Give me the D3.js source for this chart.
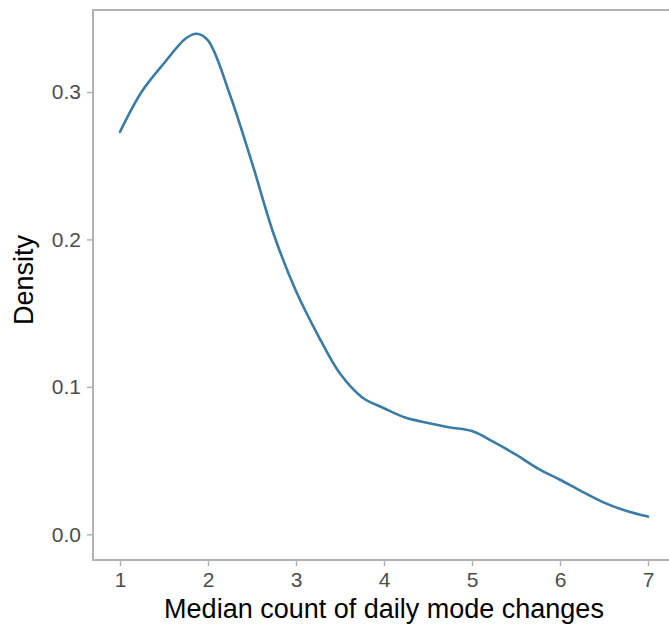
<!DOCTYPE html>
<html>
<head>
<meta charset="utf-8">
<script src="https://cdn.jsdelivr.net/npm/d3@7"></script>
<style>
  html, body { margin: 0; padding: 0; background: #fff; }
  svg { display: block; }
</style>
</head>
<body>
<svg id="chart" width="669" height="625"></svg>
<script>
// Kernel density estimate of the median count of daily mode changes
const modeChanges = [1.0, 1.25, 1.5, 1.75, 1.875, 2.0, 2.25, 2.5, 2.75, 3.0, 3.25, 3.5, 3.75,
                     4.0, 4.25, 4.5, 4.75, 5.0, 5.25, 5.5, 5.75, 6.0, 6.25, 6.5, 6.75, 7.0];
const density     = [0.273, 0.3005, 0.3195, 0.3365, 0.3395, 0.335, 0.298, 0.252, 0.203, 0.165, 0.135, 0.109, 0.093,
                     0.0855, 0.079, 0.0755, 0.0725, 0.070, 0.0625, 0.054, 0.0445, 0.037, 0.029, 0.0215, 0.016, 0.012];
const xTicks = [1, 2, 3, 4, 5, 6, 7];
const yTicks = [0.0, 0.1, 0.2, 0.3];

const svg = d3.select("#chart");

// panel bounds
const panel = { left: 93, top: 10, bottom: 560, right: 720 };

const x = d3.scaleLinear().domain([1, 7]).range([120, 648]);
const y = d3.scaleLinear().domain([0, 0.3]).range([534.3, 92]);

const axisColor = "#b3b3b3";
const tickText = "#4d4d4d";
const font = "'Liberation Sans', Arial, sans-serif";

// panel frame (top edge, left and bottom axis lines)
svg.append("path")
  .attr("d", `M${panel.right},${panel.top}H${panel.left}V${panel.bottom}H${panel.right}`)
  .attr("fill", "none")
  .attr("stroke", axisColor)
  .attr("stroke-width", 2);

// y axis
const yAxis = d3.axisLeft(y).tickValues(yTicks).tickFormat(d3.format(".1f")).tickSize(6).tickPadding(6);
const gy = svg.append("g").attr("transform", `translate(${panel.left},0)`).call(yAxis);
gy.select(".domain").remove();
gy.selectAll(".tick line").attr("stroke", axisColor).attr("stroke-width", 1.5);
gy.selectAll(".tick text").attr("fill", tickText).attr("font-family", font).attr("font-size", 21);

// x axis
const xAxis = d3.axisBottom(x).tickValues(xTicks).tickFormat(d3.format("d")).tickSize(6).tickPadding(6);
const gx = svg.append("g").attr("transform", `translate(0,${panel.bottom})`).call(xAxis);
gx.select(".domain").remove();
gx.selectAll(".tick line").attr("stroke", axisColor).attr("stroke-width", 1.5);
gx.selectAll(".tick text").attr("fill", tickText).attr("font-family", font).attr("font-size", 21);

// density curve
const line = d3.line()
  .x((d, i) => x(modeChanges[i]))
  .y(d => y(d))
  .curve(d3.curveCatmullRom.alpha(0.5));

svg.append("path")
  .datum(density)
  .attr("d", line)
  .attr("fill", "none")
  .attr("stroke", "#3a7ca5")
  .attr("stroke-width", 2.6)
  .attr("stroke-linecap", "round");

// axis titles
svg.append("text")
  .attr("x", 384).attr("y", 618)
  .attr("text-anchor", "middle")
  .attr("font-family", font).attr("font-size", 27)
  .attr("fill", "#000")
  .text("Median count of daily mode changes");

svg.append("text")
  .attr("transform", "translate(33,280) rotate(-90)")
  .attr("text-anchor", "middle")
  .attr("font-family", font).attr("font-size", 27)
  .attr("fill", "#000")
  .text("Density");
</script>
</body>
</html>
